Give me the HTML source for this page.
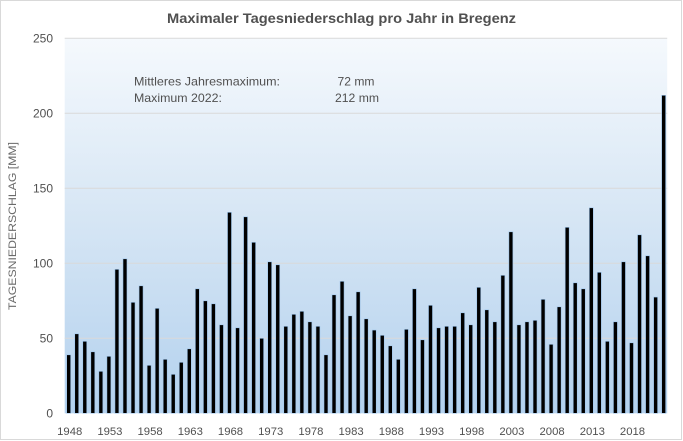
<!DOCTYPE html>
<html><head><meta charset="utf-8"><style>
html,body{margin:0;padding:0;background:#fff;}
svg{display:block;}
text{font-family:"Liberation Sans",sans-serif;fill:#505050;}
</style></head><body>
<svg width="683" height="441" viewBox="0 0 683 441" xmlns="http://www.w3.org/2000/svg">
<defs>
<linearGradient id="bg" x1="0" y1="0" x2="0" y2="1">
<stop offset="0" stop-color="#f5f9fd"/>
<stop offset="0.5" stop-color="#d5e5f4"/>
<stop offset="1" stop-color="#b3d1ee"/>
</linearGradient>
</defs>
<rect x="0" y="0" width="683" height="441" fill="#fff"/>
<rect x="0.5" y="0.5" width="681" height="439" fill="none" stroke="#d9d9d9" stroke-width="1"/>
<rect x="64.7" y="38.3" width="602.5" height="375" fill="url(#bg)"/>
<g stroke="#d9d9d9" stroke-width="1">
<line x1="64.7" x2="667.2" y1="38.3" y2="38.3"/>
<line x1="64.7" x2="667.2" y1="113.3" y2="113.3"/>
<line x1="64.7" x2="667.2" y1="188.3" y2="188.3"/>
<line x1="64.7" x2="667.2" y1="263.3" y2="263.3"/>
<line x1="64.7" x2="667.2" y1="338.3" y2="338.3"/>
</g>
<text x="167" y="23" font-size="14" font-weight="bold" textLength="349" lengthAdjust="spacingAndGlyphs">Maximaler Tagesniederschlag  pro Jahr in Bregenz</text>
<g font-size="12" text-anchor="end">
<text x="53" y="42.5">250</text>
<text x="53" y="117.5">200</text>
<text x="53" y="192.5">150</text>
<text x="53" y="267.5">100</text>
<text x="53" y="342.5">50</text>
<text x="53" y="417.5">0</text>
</g>
<text transform="translate(16,226) rotate(-90)" font-size="11" text-anchor="middle" textLength="168" lengthAdjust="spacingAndGlyphs" style="fill:#6a6a6a">TAGESNIEDERSCHLAG  [MM]</text>
<g font-size="12">
<text x="134" y="85.5" textLength="146" lengthAdjust="spacingAndGlyphs">Mittleres Jahresmaximum:</text>
<text x="134" y="102" textLength="88" lengthAdjust="spacingAndGlyphs">Maximum 2022:</text>
<text x="337.5" y="85.5" textLength="37" lengthAdjust="spacingAndGlyphs">72 mm</text>
<text x="335" y="102" textLength="44" lengthAdjust="spacingAndGlyphs">212 mm</text>
</g>
<g fill="#000" stroke="#9fc6ec" stroke-width="0.6">
<rect x="66.7" y="354.8" width="4" height="58.5"/>
<rect x="74.74" y="333.8" width="4" height="79.5"/>
<rect x="82.78" y="341.3" width="4" height="72"/>
<rect x="90.82" y="351.8" width="4" height="61.5"/>
<rect x="98.86" y="371.3" width="4" height="42"/>
<rect x="106.9" y="356.3" width="4" height="57"/>
<rect x="114.94" y="269.3" width="4" height="144"/>
<rect x="122.98" y="258.8" width="4" height="154.5"/>
<rect x="131.02" y="302.3" width="4" height="111"/>
<rect x="139.06" y="285.8" width="4" height="127.5"/>
<rect x="147.1" y="365.3" width="4" height="48"/>
<rect x="155.14" y="308.3" width="4" height="105"/>
<rect x="163.18" y="359.3" width="4" height="54"/>
<rect x="171.22" y="374.3" width="4" height="39"/>
<rect x="179.26" y="362.3" width="4" height="51"/>
<rect x="187.3" y="348.8" width="4" height="64.5"/>
<rect x="195.34" y="288.8" width="4" height="124.5"/>
<rect x="203.38" y="300.8" width="4" height="112.5"/>
<rect x="211.42" y="303.8" width="4" height="109.5"/>
<rect x="219.46" y="324.8" width="4" height="88.5"/>
<rect x="227.5" y="212.3" width="4" height="201"/>
<rect x="235.54" y="327.8" width="4" height="85.5"/>
<rect x="243.58" y="216.8" width="4" height="196.5"/>
<rect x="251.62" y="242.3" width="4" height="171"/>
<rect x="259.66" y="338.3" width="4" height="75"/>
<rect x="267.7" y="261.8" width="4" height="151.5"/>
<rect x="275.74" y="264.8" width="4" height="148.5"/>
<rect x="283.78" y="326.3" width="4" height="87"/>
<rect x="291.82" y="314.3" width="4" height="99"/>
<rect x="299.86" y="311.3" width="4" height="102"/>
<rect x="307.9" y="321.8" width="4" height="91.5"/>
<rect x="315.94" y="326.3" width="4" height="87"/>
<rect x="323.98" y="354.8" width="4" height="58.5"/>
<rect x="332.02" y="294.8" width="4" height="118.5"/>
<rect x="340.06" y="281.3" width="4" height="132"/>
<rect x="348.1" y="315.8" width="4" height="97.5"/>
<rect x="356.14" y="291.8" width="4" height="121.5"/>
<rect x="364.18" y="318.8" width="4" height="94.5"/>
<rect x="372.22" y="330.05" width="4" height="83.25"/>
<rect x="380.26" y="335.3" width="4" height="78"/>
<rect x="388.3" y="345.8" width="4" height="67.5"/>
<rect x="396.34" y="359.3" width="4" height="54"/>
<rect x="404.38" y="329.3" width="4" height="84"/>
<rect x="412.42" y="288.8" width="4" height="124.5"/>
<rect x="420.46" y="339.8" width="4" height="73.5"/>
<rect x="428.5" y="305.3" width="4" height="108"/>
<rect x="436.54" y="327.8" width="4" height="85.5"/>
<rect x="444.58" y="326.3" width="4" height="87"/>
<rect x="452.62" y="326.3" width="4" height="87"/>
<rect x="460.66" y="312.8" width="4" height="100.5"/>
<rect x="468.7" y="324.8" width="4" height="88.5"/>
<rect x="476.74" y="287.3" width="4" height="126"/>
<rect x="484.78" y="309.8" width="4" height="103.5"/>
<rect x="492.82" y="321.8" width="4" height="91.5"/>
<rect x="500.86" y="275.3" width="4" height="138"/>
<rect x="508.9" y="231.8" width="4" height="181.5"/>
<rect x="516.94" y="324.8" width="4" height="88.5"/>
<rect x="524.98" y="321.8" width="4" height="91.5"/>
<rect x="533.02" y="320.3" width="4" height="93"/>
<rect x="541.06" y="299.3" width="4" height="114"/>
<rect x="549.1" y="344.3" width="4" height="69"/>
<rect x="557.14" y="306.8" width="4" height="106.5"/>
<rect x="565.18" y="227.3" width="4" height="186"/>
<rect x="573.22" y="282.8" width="4" height="130.5"/>
<rect x="581.26" y="288.8" width="4" height="124.5"/>
<rect x="589.3" y="207.8" width="4" height="205.5"/>
<rect x="597.34" y="272.3" width="4" height="141"/>
<rect x="605.38" y="341.3" width="4" height="72"/>
<rect x="613.42" y="321.8" width="4" height="91.5"/>
<rect x="621.46" y="261.8" width="4" height="151.5"/>
<rect x="629.5" y="342.8" width="4" height="70.5"/>
<rect x="637.54" y="234.8" width="4" height="178.5"/>
<rect x="645.58" y="255.8" width="4" height="157.5"/>
<rect x="653.62" y="297.05" width="4" height="116.25"/>
<rect x="661.66" y="95.3" width="4" height="318"/>
</g>
<g font-size="11.3" text-anchor="middle">
<text x="69.7" y="435">1948</text>
<text x="109.9" y="435">1953</text>
<text x="150.1" y="435">1958</text>
<text x="190.3" y="435">1963</text>
<text x="230.5" y="435">1968</text>
<text x="270.7" y="435">1973</text>
<text x="310.9" y="435">1978</text>
<text x="351.1" y="435">1983</text>
<text x="391.3" y="435">1988</text>
<text x="431.5" y="435">1993</text>
<text x="471.7" y="435">1998</text>
<text x="511.9" y="435">2003</text>
<text x="552.1" y="435">2008</text>
<text x="592.3" y="435">2013</text>
<text x="632.5" y="435">2018</text>
</g>
</svg>
</body></html>
